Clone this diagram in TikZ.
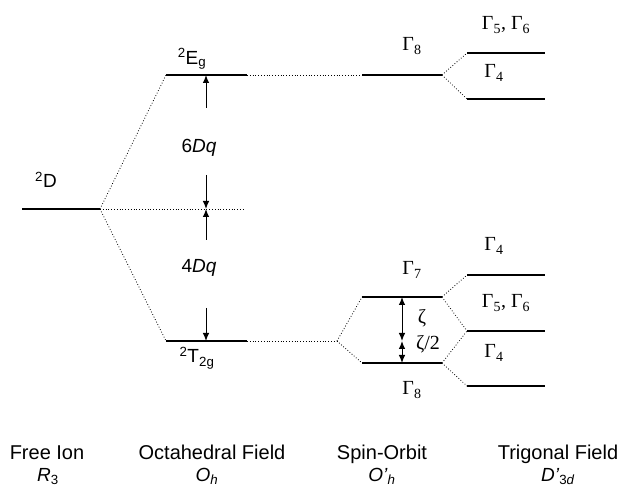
\documentclass[tikz,border=0pt]{standalone}
\usepackage{fontspec}
\setmainfont{Liberation Sans}
\newfontfamily\serifg{Liberation Serif}
\usetikzlibrary{arrows.meta}
\begin{document}
\begin{tikzpicture}[x=1pt,y=-1pt,
  level/.style={line width=1.1pt},
  conn/.style={dotted,line width=0.8pt},
  arr/.style={line width=1pt,-{Latex[length=8pt,width=6.5pt]}},
  darr/.style={line width=1pt,{Latex[length=8pt,width=6.5pt]}-{Latex[length=8pt,width=6.5pt]}},
  lab/.style={inner sep=0pt,font=\fontsize{19}{21}\selectfont},
  glab/.style={inner sep=0pt,font=\fontsize{20}{22}\serifg},
  blab/.style={inner sep=0pt,anchor=base,font=\fontsize{20}{22}\selectfont},
  slab/.style={inner sep=0pt,anchor=base,font=\fontsize{19}{21}\selectfont}]
\path[use as bounding box] (0,0) rectangle (622,489);
% coordinates of levels
\coordinate (D1) at (22,209); \coordinate (D2) at (100,209); \coordinate (Dend) at (245,209);
\coordinate (E1) at (166,75); \coordinate (E2) at (247,75);
\coordinate (T1) at (166,341); \coordinate (T2) at (247,341);
\coordinate (S1) at (362,75); \coordinate (S2) at (442,75);
\coordinate (A1) at (467,53); \coordinate (A2) at (545,53);
\coordinate (B1) at (467,99); \coordinate (B2) at (545,99);
\coordinate (C) at (337,341);
\coordinate (G7a) at (362,297); \coordinate (G7b) at (442,297);
\coordinate (G8a) at (362,363); \coordinate (G8b) at (442,363);
\coordinate (L1a) at (467,275); \coordinate (L1b) at (545,275);
\coordinate (L2a) at (467,331); \coordinate (L2b) at (545,331);
\coordinate (L3a) at (467,386); \coordinate (L3b) at (545,386);
% levels
\draw[level] (D1) -- (D2);
\draw[level] (E1) -- (E2);
\draw[level] (T1) -- (T2);
\draw[level] (S1) -- (S2);
\draw[level] (A1) -- (A2);
\draw[level] (B1) -- (B2);
\draw[level] (G7a) -- (G7b);
\draw[level] (G8a) -- (G8b);
\draw[level] (L1a) -- (L1b);
\draw[level] (L2a) -- (L2b);
\draw[level] (L3a) -- (L3b);
% correlation lines
\draw[conn] (D2) -- (E1);
\draw[conn] (D2) -- (T1);
\draw[conn] (D2) -- (Dend);
\draw[conn] (E2) -- (S1);
\draw[conn] (S2) -- (A1);
\draw[conn] (S2) -- (B1);
\draw[conn] (T2) -- (C);
\draw[conn] (C) -- (G7a);
\draw[conn] (C) -- (G8a);
\draw[conn] (G7b) -- (L1a);
\draw[conn] (G7b) -- (L2a);
\draw[conn] (G8b) -- (L2a);
\draw[conn] (G8b) -- (L3a);
% arrows
\coordinate (a1) at (206,108); \coordinate (a1e) at (206,75);
\coordinate (a2) at (206,175); \coordinate (a2e) at (206,209);
\coordinate (a3) at (206,240); \coordinate (a3e) at (206,209);
\coordinate (a4) at (206,308); \coordinate (a4e) at (206,341);
\draw[arr] (a1) -- (a1e);
\draw[arr] (a2) -- (a2e);
\draw[arr] (a3) -- (a3e);
\draw[arr] (a4) -- (a4e);
\coordinate (z1) at (402,297); \coordinate (z2) at (402,341); \coordinate (z3) at (402,363);
\draw[darr] (z1) -- (z2);
\draw[darr] (z2) -- (z3);
% labels
\node[lab] (l2D) at (46,180) {\textsuperscript{2}D};
\node[lab] (lEg) at (192,59) {\textsuperscript{2}E\textsubscript{g}};
\node[lab] (lT2g) at (197,358) {\textsuperscript{2}T\textsubscript{2g}};
\node[lab] (l6Dq) at (199,148) {6\textit{Dq}};
\node[lab] (l4Dq) at (199,268) {4\textit{Dq}};
\node[glab] (g8u) at (412,46) {Γ\textsubscript{8}};
\node[glab] (g56u) at (506,25) {Γ\textsubscript{5}, Γ\textsubscript{6}};
\node[glab] (g4u) at (494,73) {Γ\textsubscript{4}};
\node[glab] (g7) at (412,270) {Γ\textsubscript{7}};
\node[glab] (g8l) at (412,390) {Γ\textsubscript{8}};
\node[glab] (g4a) at (494,246) {Γ\textsubscript{4}};
\node[glab] (g56l) at (506,303) {Γ\textsubscript{5}, Γ\textsubscript{6}};
\node[glab] (g4b) at (494,353) {Γ\textsubscript{4}};
\node[glab] (zeta) at (422,318) {ζ};
\node[glab] (zeta2) at (428,344) {ζ/2};
\node[blab] (b1) at (47,460) {Free Ion};
\node[slab] (b1s) at (48,481) {\textit{R}\textsubscript{3}};
\node[blab] (b2) at (212,460) {Octahedral Field};
\node[slab] (b2s) at (207,481) {\textit{O}\textsubscript{\textit{h}}};
\node[blab] (b3) at (382,460) {Spin-Orbit};
\node[slab] (b3s) at (382,481) {\textit{O'}\textsubscript{\textit{h}}};
\node[blab] (b4) at (558,460) {Trigonal Field};
\node[slab] (b4s) at (558,481) {\textit{D'}\textsubscript{3\textit{d}}};
\end{tikzpicture}
\end{document}
